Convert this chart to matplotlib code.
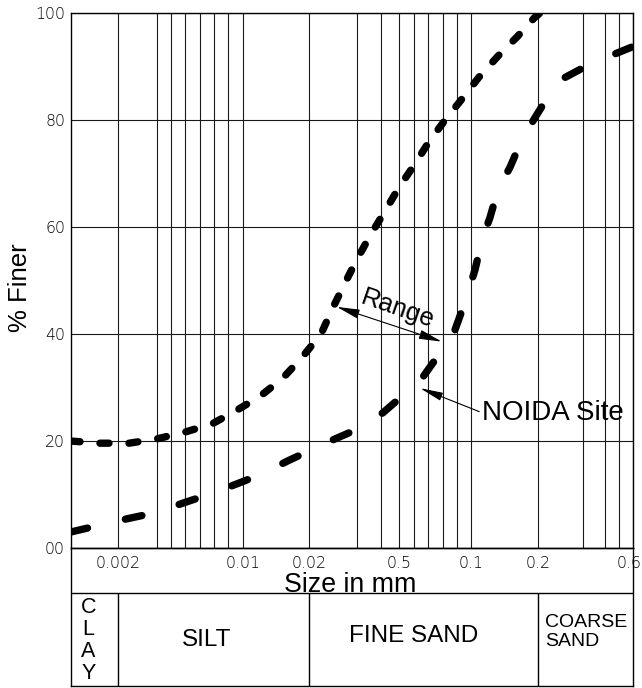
import numpy as np
import matplotlib
matplotlib.use('Agg')
from matplotlib import pyplot as plt
from matplotlib.transforms import ScaledTranslation

plt.rc('font', family='Liberation Sans')
plt.rc('lines', scale_dashes=False)

# chart grid sizes (mm) and where each one sits across the plot width (0..1)
# -- the sheet is hand drawn, so the scale is only roughly logarithmic
scale_mm = [0.001, 0.002, 0.004, 0.005, 0.006, 0.007, 0.008, 0.009, 0.01,
            0.02, 0.03, 0.04, 0.05, 0.06, 0.07, 0.08, 0.09, 0.1,
            0.2, 0.3, 0.4, 0.5, 0.6]
scale_pos = [0.0, 0.0841, 0.1524, 0.1778, 0.2033, 0.2289, 0.2543, 0.2797, 0.3054,
             0.4238, 0.5081, 0.5508, 0.5839, 0.6100, 0.6354, 0.6610, 0.6865, 0.7119,
             0.8305, 0.9111, 0.9497, 0.9751, 1.0]

tick_mm = [0.002, 0.01, 0.02, 0.05, 0.1, 0.2, 0.6]
tick_txt = ['0.002', '0.01', '0.02', '0.5', '0.1', '0.2', '0.6']
minor_mm = [0.004, 0.005, 0.006, 0.007, 0.008, 0.009, 0.03, 0.04,
            0.06, 0.07, 0.08, 0.09, 0.3, 0.4, 0.5]
pct_ticks = [0, 20, 40, 60, 80, 100]
pct_txt = ['00', '20', '40', '60', '80', '100']

# upper / lower limit of the range (size mm, % finer)
upper_mm = [0.001, 0.00153, 0.00243, 0.004, 0.006, 0.00785, 0.0096, 0.012, 0.0152,
            0.0185, 0.0221, 0.0245, 0.0271, 0.0301, 0.0352, 0.0421, 0.0499, 0.0593,
            0.0705, 0.0815, 0.0934, 0.108, 0.132, 0.161, 0.192, 0.203]
upper_pct = [20.0, 19.6, 19.6, 20.4, 21.7, 23.2, 25.8, 28.4, 31.8,
             35.6, 40.0, 45.0, 49.5, 54.0, 58.4, 63.0, 67.5, 71.3,
             76.0, 80.0, 84.0, 88.0, 92.0, 95.6, 99.1, 100.0]

lower_mm = [0.001, 0.00149, 0.00238, 0.00374, 0.00583, 0.00749, 0.00959, 0.012, 0.016,
            0.0239, 0.032, 0.0411, 0.055, 0.0661, 0.0795, 0.0885, 0.0955, 0.1039,
            0.1118, 0.1214, 0.132, 0.1495, 0.1693, 0.1939, 0.2227, 0.2371, 0.2913,
            0.4127, 0.6]
lower_pct = [3.0, 4.2, 5.5, 6.5, 8.4, 9.9, 12.0, 13.7, 16.3,
             20.0, 22.6, 25.3, 29.2, 32.0, 37.0, 40.8, 46.0, 52.0,
             57.6, 61.8, 67.0, 71.2, 76.4, 80.5, 85.0, 87.2, 89.5,
             91.8, 93.8]

# soil classes under the chart
class_bounds = [0.002, 0.02, 0.2]

log_mm = np.log10(scale_mm)


def forward(x):
    x = np.clip(np.asarray(x, dtype=float), 1e-6, None)
    return np.interp(np.log10(x), log_mm, scale_pos)


def inverse(p):
    return 10 ** np.interp(np.asarray(p, dtype=float), scale_pos, log_mm)


W, H = 642, 688
fig = plt.figure(figsize=(W / 100, H / 100), dpi=100)
x0, x1 = 71, 633.3
y0, y1 = 13.3, 548
ax = fig.add_axes([x0 / W, 1 - y1 / H, (x1 - x0) / W, (y1 - y0) / H])
ax.set_xscale('function', functions=(forward, inverse))

ax.plot(upper_mm, upper_pct, color='black', lw=5.3, dashes=(6.5, 14.4),
        dash_capstyle='round', zorder=3)
ax.plot(lower_mm, lower_pct, color='black', lw=5.3, dashes=(12.2, 28),
        dash_capstyle='round', zorder=3)

ax.set_xlim(0.001, 0.6)
ax.set_ylim(0, 100)
ax.set_xticks(tick_mm, labels=tick_txt, fontfamily='DejaVu Sans',
              fontweight='light', fontsize=11.3)
ax.set_xticks(minor_mm, minor=True)
ax.set_yticks(pct_ticks, labels=pct_txt, fontfamily='DejaVu Sans',
              fontweight='light', fontsize=11.3)
ax.tick_params(which='both', length=0)
ax.tick_params(axis='x', pad=6.0)
ax.tick_params(axis='y', pad=4.3)
ax.set_axisbelow(True)
ax.grid(True, which='both', color='#1a1a1a', lw=0.8)
for s in ax.spines.values():
    s.set_linewidth(1)
# last size label sits on the frame edge; nudge it in a little
last = ax.get_xticklabels()[-1]
last.set_transform(last.get_transform() + ScaledTranslation(-0.04, 0, fig.dpi_scale_trans))

ax.set_ylabel('% Finer', fontsize=18.5)
ax.yaxis.set_label_coords(-0.0907, 0.486)
ax.yaxis.label.set_va('center')
ax.set_xlabel('Size in mm', fontsize=19.3)
ax.xaxis.set_label_coords(0.496, -0.0817)
ax.xaxis.label.set_va('baseline')

ax.annotate('', xy=(0.0253, 45.1), xytext=(0.0793, 38.6),
            arrowprops=dict(arrowstyle='<|-|>,head_length=1.4,head_width=0.28',
                            color='black', lw=0.8, shrinkA=0, shrinkB=0,
                            mutation_scale=10))
ax.text(0.0488, 44.6, 'Range', rotation=-19, rotation_mode='anchor',
        ha='center', va='center', fontsize=18.5)
ax.annotate('NOIDA Site', xy=(0.064, 29.9), xytext=(0.1118, 25.3),
            ha='left', va='center', fontsize=20,
            arrowprops=dict(arrowstyle='-|>,head_length=1.4,head_width=0.25',
                            color='black', lw=0.8, shrinkA=0, shrinkB=0,
                            relpos=(0, 0.5), mutation_scale=10))

# label band + soil class table below the plot
tb = 686
tab = fig.add_axes([x0 / W, 1 - tb / H, (x1 - x0) / W, (tb - y1) / H], sharex=ax)
tab.set_facecolor('none')
tab.set_ylim(0, 1)
tab.tick_params(which='both', length=0, labelbottom=False, labelleft=False)
for s in tab.spines.values():
    s.set_linewidth(1)
row = (tb - 593) / (tb - y1)
tab.axhline(row, color='black', lw=1)
tab.vlines(class_bounds, 0, row, color='black', lw=1)
tab.text(0.00129, 0.33, 'C\nL\nA\nY', ha='center', va='center', fontsize=15.5,
         linespacing=1.08)
tab.text(0.0075, 0.335, 'SILT', ha='center', va='center', fontsize=17.5)
tab.text(0.0595, 0.36, 'FINE SAND', ha='center', va='center', fontsize=17.5)
tab.text(0.213, 0.39, 'COARSE\nSAND', ha='left', va='center', fontsize=14,
         linespacing=1.2)

fig.savefig('out.png', dpi=100)
